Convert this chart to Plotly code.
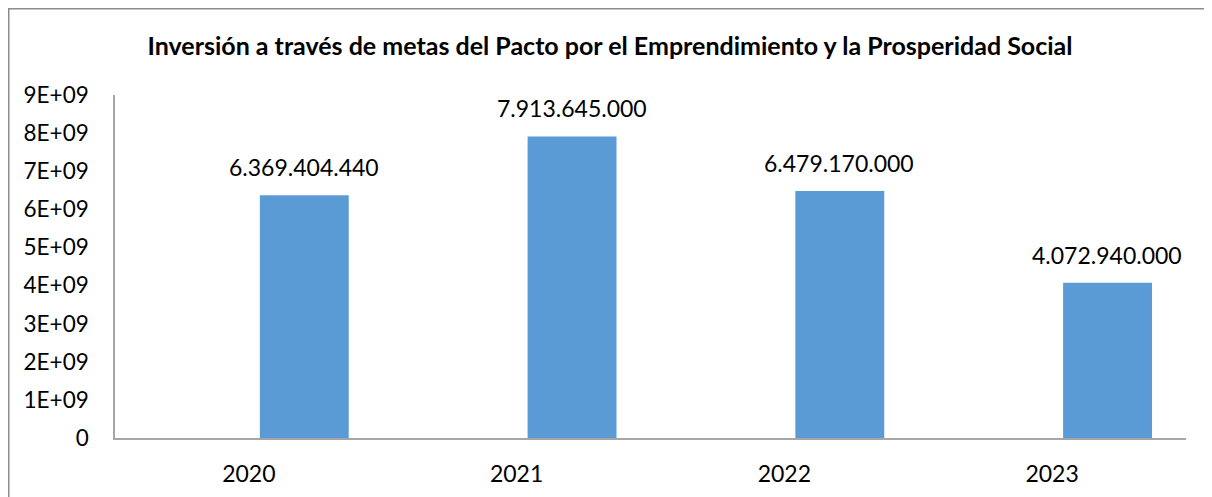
import plotly.graph_objects as go

years = ["2020", "2021", "2022", "2023"]
inversion = [6369404440, 7913645000, 6479170000, 4072940000]
labels = ["6.369.404.440", "7.913.645.000", "6.479.170.000", "4.072.940.000"]
y_ticks = [0, 1e9, 2e9, 3e9, 4e9, 5e9, 6e9, 7e9, 8e9, 9e9]
y_tick_text = ["0", "1E+09", "2E+09", "3E+09", "4E+09", "5E+09", "6E+09", "7E+09", "8E+09", "9E+09"]
title = "Inversión a través de metas del Pacto por el Emprendimiento y la Prosperidad Social"

W, H = 1212, 497
L, R, T, B = 107, 34, 87, 67
pw, ph = W - L - R, H - T - B

fig = go.Figure()
fig.add_trace(
    go.Bar(
        x=years,
        y=inversion,
        width=0.332,
        offset=0.041,
        marker=dict(color="#5B9BD5", line=dict(width=0)),
        hoverinfo="skip",
    )
)

# value labels above the bars (x given as category index)
for i, (val, lab) in enumerate(zip(inversion, labels)):
    fig.add_annotation(
        x=i, y=val, text=lab, showarrow=False,
        xshift=55, yshift=28, yanchor="middle",
        font=dict(size=23, color="black"),
    )

# outer chart border
fig.add_shape(
    type="rect", xref="paper", yref="paper",
    x0=(0.75 - L) / pw, x1=(W + 10 - L) / pw,
    y0=-(B + 10) / ph, y1=1 + (T - 0.75) / ph,
    line=dict(color="#8c8c8c", width=1.5),
)

fig.update_layout(
    width=W,
    height=H,
    margin=dict(l=L, r=R, t=T, b=B),
    paper_bgcolor="white",
    plot_bgcolor="white",
    showlegend=False,
    font=dict(family="Lato", size=23, color="black"),
    title=dict(
        text="<b>" + title + "</b>",
        x=0.4967, xanchor="center", y=0.9235, yanchor="middle",
        font=dict(family="Lato", size=25, color="black"),
    ),
    xaxis=dict(
        type="category",
        range=[-0.5, 3.5],
        showline=True, linecolor="#a6a6a6", linewidth=1.5,
        ticks="", showgrid=False, ticklabelstandoff=15, automargin=False,
    ),
    yaxis=dict(
        range=[0, 9e9],
        tickmode="array", tickvals=y_ticks, ticktext=y_tick_text,
        showline=True, linecolor="#a6a6a6", linewidth=1.5,
        ticks="", showgrid=False, zeroline=False, ticklabelstandoff=20,
        tickfont=dict(size=22.5),
        automargin=False,
    ),
)

fig.write_html("out.html")
